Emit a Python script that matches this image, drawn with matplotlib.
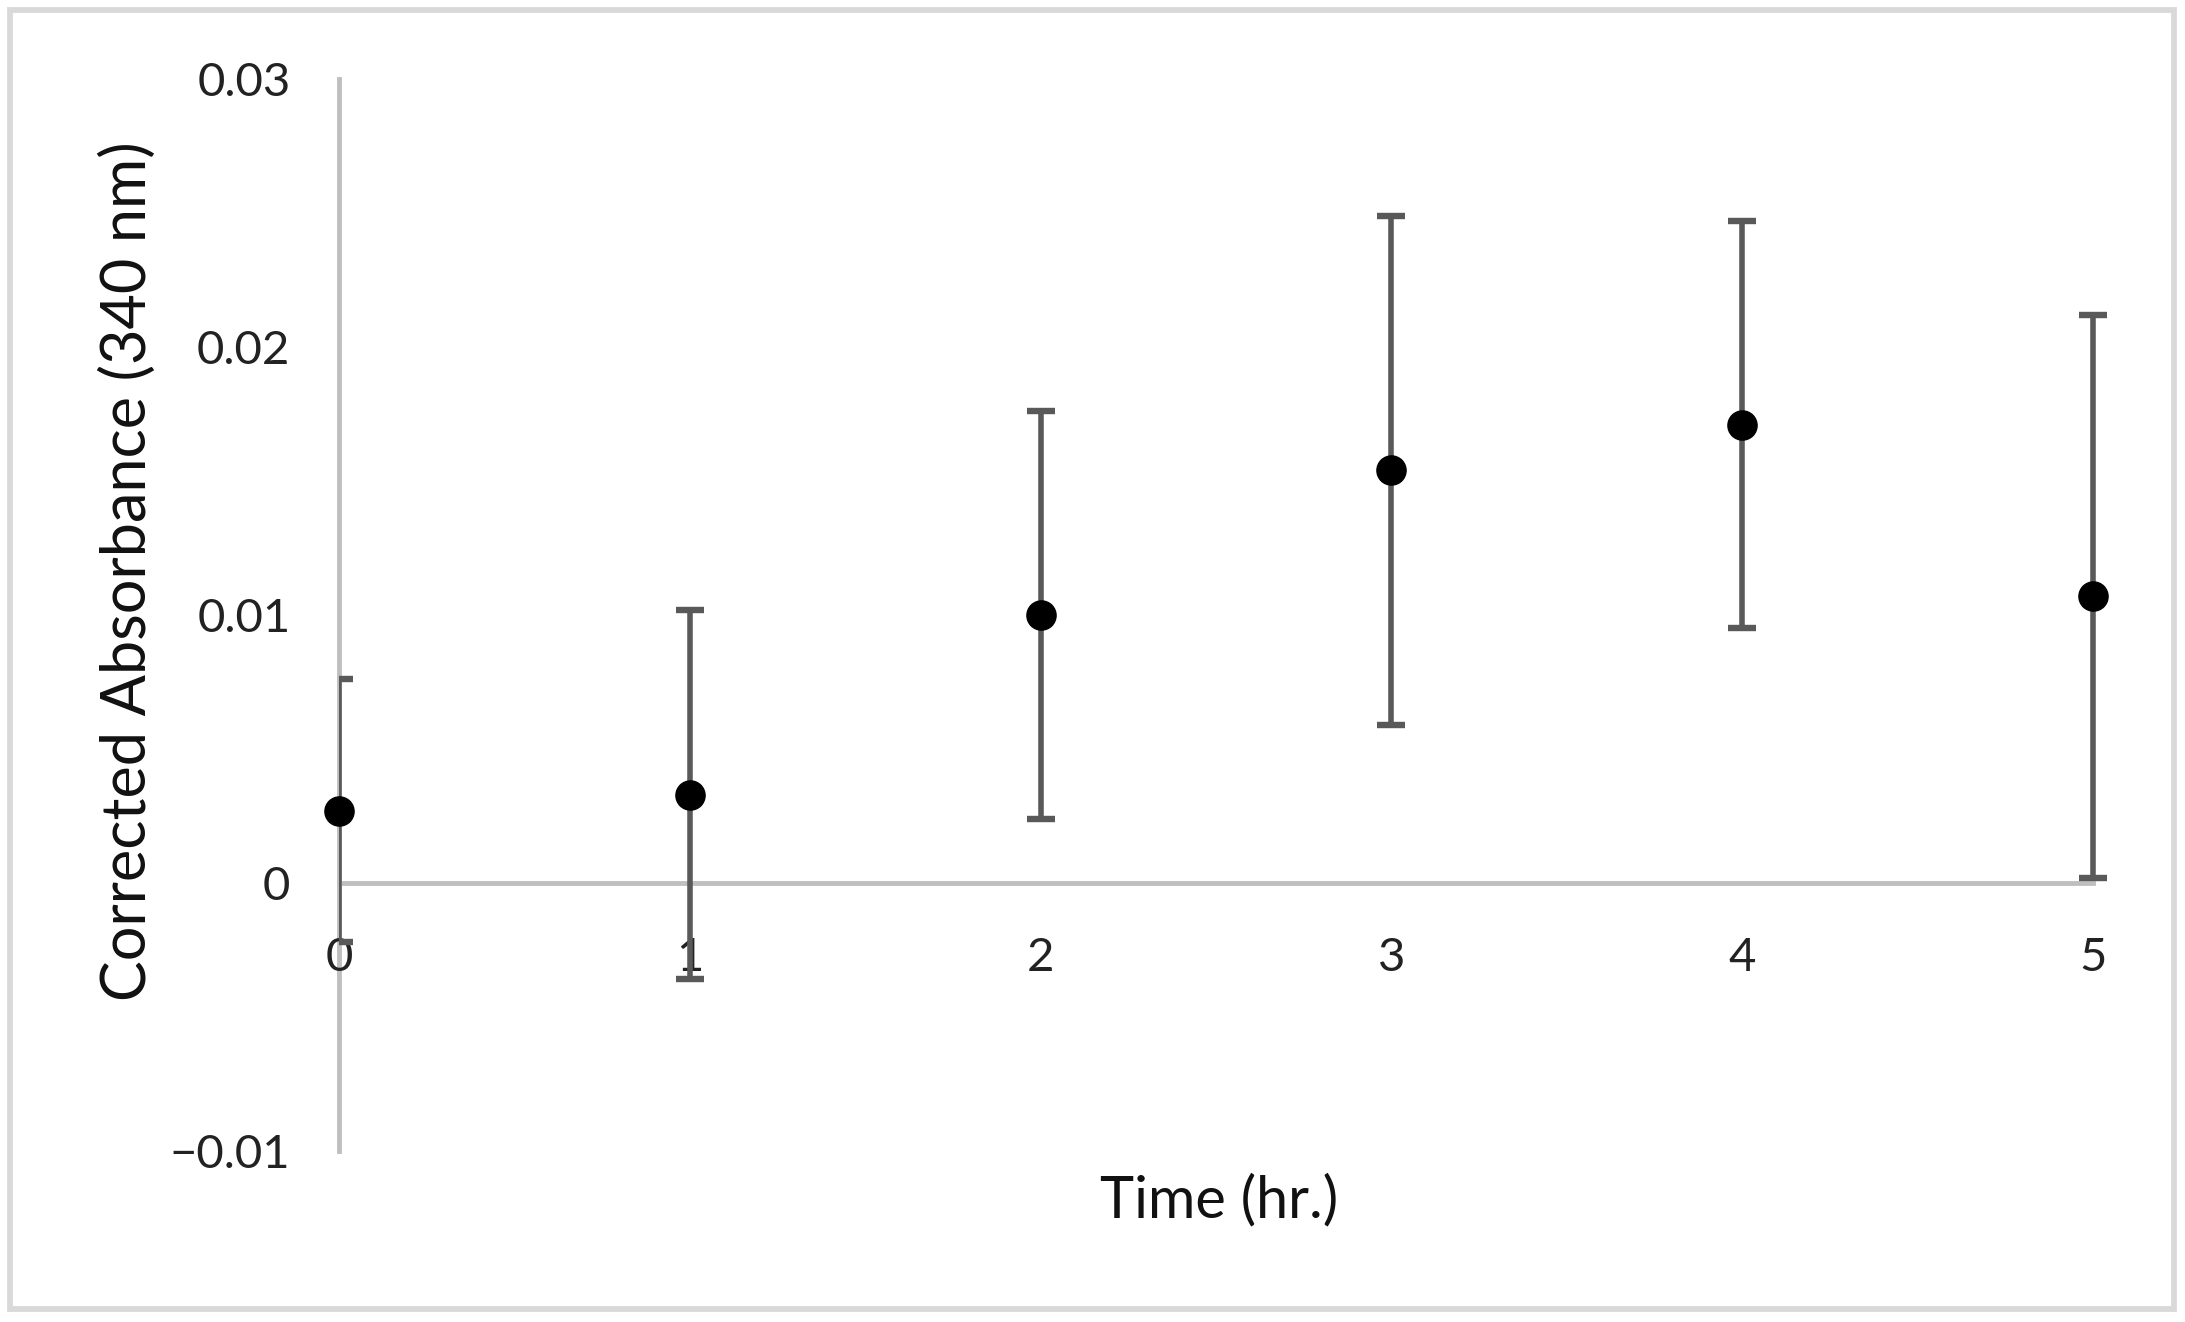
import matplotlib
matplotlib.use("Agg")
import matplotlib.pyplot as plt
from matplotlib.patches import Rectangle

plt.rcParams['font.family'] = ['Lato', 'DejaVu Sans']

# data
time_hr = [0, 1, 2, 3, 4, 5]
absorbance = [0.0027, 0.0033, 0.0100, 0.0154, 0.0171, 0.0107]
abs_err = [0.0049, 0.0069, 0.0076, 0.0095, 0.0076, 0.0105]
y_ticks = [-0.01, 0, 0.01, 0.02, 0.03]
y_tick_labels = ['\u22120.01', '0', '0.01', '0.02', '0.03']

W, H = 2185, 1322
fig = plt.figure(figsize=(W / 100, H / 100), dpi=100)

# outer chart border
fig.patches.append(Rectangle((10 / W, 1 - 1309 / H), (2174 - 10) / W, (1309 - 10) / H,
                             transform=fig.transFigure, fill=False,
                             edgecolor='#d9d9d9', linewidth=4.2))

ax = fig.add_axes([339 / W, 1 - 1151 / H, (2093 - 339) / W * 1.01, (1151 - 79) / H])
ax.set_xlim(0, 5 * 1.01)
ax.set_ylim(-0.01, 0.03)

ax.errorbar(time_hr, absorbance, yerr=abs_err, fmt='none', ecolor='#595959',
            elinewidth=4.0, capsize=10, capthick=4.6, zorder=2)
ax.plot(time_hr, absorbance, 'o', color='black', markersize=21, zorder=3, clip_on=False)

for s in ['top', 'right']:
    ax.spines[s].set_visible(False)
ax.spines['bottom'].set_position(('data', 0))
ax.spines['bottom'].set_bounds(0, 5)
ax.spines['left'].set_position(('data', 0))
for s in ['bottom', 'left']:
    ax.spines[s].set_color('#bfbfbf')
    ax.spines[s].set_linewidth(3.5)
    ax.spines[s].set_zorder(1)

ax.set_xticks(time_hr)
ax.set_xticklabels([str(t) for t in time_hr])
ax.set_yticks(y_ticks)
ax.set_yticklabels(y_tick_labels)
ax.tick_params(axis='x', length=0, pad=39, labelsize=34, labelcolor='#222222')
ax.tick_params(axis='y', length=0, pad=35, labelsize=34, labelcolor='#222222')

fig.text(128 / W, 1 - 571 / H, 'Corrected Absorbance (340 nm)', rotation=90,
         ha='center', va='center', fontsize=44, color='#111111')
fig.text(1219 / W, 1 - 1201 / H, 'Time (hr.)', ha='center', va='center',
         fontsize=41.5, color='#111111')

fig.savefig('out.png', dpi=100)
